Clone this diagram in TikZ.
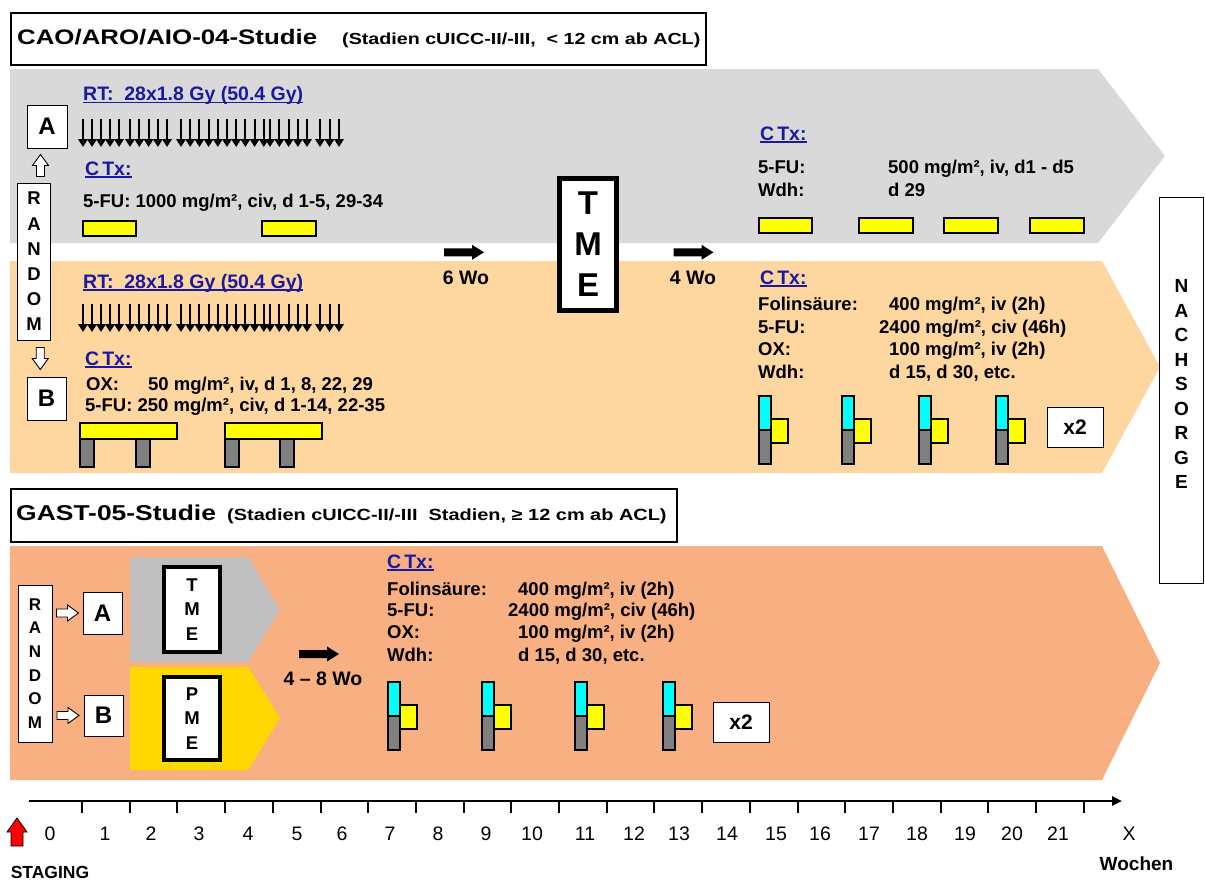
\documentclass[tikz,border=0pt]{standalone}
\usepackage{fontspec}
\setmainfont{Liberation Sans}
\newfontfamily\titlefont[FakeStretch=1.23]{Liberation Sans}
\usetikzlibrary{arrows.meta,calc}
\definecolor{bgray}{HTML}{D9D9D9}
\definecolor{borange}{HTML}{FDD6A0}
\definecolor{bsalmon}{HTML}{F8B082}
\definecolor{ctxblue}{HTML}{1A1AA0}
\definecolor{pmeyellow}{HTML}{FFD800}
\definecolor{tmegray}{HTML}{BFBFBF}
\definecolor{pumpcyan}{HTML}{00FFFF}
\definecolor{pumpyellow}{HTML}{FFFF00}
\definecolor{stubgray}{HTML}{808080}
\newcommand\fsz[1]{\fontsize{#1}{#1}\selectfont}
\newsavebox\ulbox
\newcommand\ulin[1]{\sbox\ulbox{#1}\rlap{\rule[-2.6pt]{\wd\ulbox}{1.4pt}}\usebox\ulbox}
\begin{document}
\begin{tikzpicture}[x=1pt,y=-1pt,
  drug/.style={anchor=base west, inner sep=0, font=\bfseries\fsz{18.5}},
  hdl/.style={anchor=base west, inner sep=0, font=\bfseries\fsz{19.5}, text=ctxblue},
  wotxt/.style={anchor=base, inner sep=0, font=\bfseries\fsz{19.5}},
  axtxt/.style={anchor=base, inner sep=0, font=\fsz{19.5}},
  letterbox/.style={draw, line width=1pt, fill=white, inner sep=0, font=\bfseries\fsz{24}},
  stackbox/.style={draw, line width=1pt, fill=white, inner sep=0, align=center},
  opbox/.style={draw, fill=white, inner sep=0, align=center},
  xtwo/.style={draw, line width=1pt, fill=white, inner sep=0, minimum width=56, minimum height=40, font=\bfseries\fsz{21}},
  ybar/.style={draw, line width=1.3pt, fill=pumpyellow},
  gstub/.style={draw, line width=1.3pt, fill=stubgray},
  dosearr/.style={line width=2pt, -{Triangle[length=8pt,width=9.5pt]}},
  pump/.pic={
    \draw[line width=1.3pt, fill=pumpcyan] (0,0) rectangle (12,34);
    \draw[line width=1.3pt, fill=stubgray] (0,34) rectangle (12,68);
    \draw[line width=1.3pt, fill=pumpyellow] (12,23) rectangle (29,47);
  },
  harrow/.pic={
    \draw[line width=0.9pt, fill=white] (-11,-4) -- (0,-4) -- (0,-8) -- (11,0) -- (0,8) -- (0,4) -- (-11,4) -- cycle;
  },
  barrow/.pic={
    \fill[black] (-20,-4) -- (8,-4) -- (8,-7.5) -- (20,0) -- (8,7.5) -- (8,4) -- (-20,4) -- cycle;
  }
]
\useasboundingbox (0,0) rectangle (1205,881);
\fill[white] (0,0) rectangle (1205,881);

% ---------- background bands ----------
\fill[bgray] (10,69) -- (1098,69) -- (1165,156) -- (1098,243) -- (10,243) -- cycle;
\fill[borange] (10,261) -- (1102,261) -- (1160,367) -- (1102,473) -- (10,473) -- cycle;
\fill[bsalmon] (10,546) -- (1102,546) -- (1160,663) -- (1102,780) -- (10,780) -- cycle;

% ---------- title boxes ----------
\node[draw, line width=2pt, fill=white, minimum width=695, minimum height=52, inner sep=0, anchor=north west] (title1) at (10,12) {};
\node[anchor=base west, inner sep=0, font=\titlefont\bfseries\fsz{21}] (t1a) at (17,44.5) {CAO/ARO/AIO-04-Studie};
\node[anchor=base west, inner sep=0, font=\titlefont\bfseries\fsz{16}] (t1b) at (342,44) {(Stadien cUICC-II/-III,\ \ < 12 cm ab ACL)};

\node[draw, line width=2pt, fill=white, minimum width=666, minimum height=53, inner sep=0, anchor=north west] (title2) at (10,488) {};
\node[anchor=base west, inner sep=0, font=\titlefont\bfseries\fsz{21.5}] (t2a) at (16,520.5) {GAST-05-Studie};
\node[anchor=base west, inner sep=0, font=\titlefont\bfseries\fsz{16.2}] (t2b) at (227,520) {(Stadien cUICC-II/-III\ \ Stadien, ≥ 12 cm ab ACL)};

% ---------- CAO/ARO/AIO-04: randomisation ----------
\node[letterbox, minimum width=40, minimum height=43] (boxA) at (47,126.5) {A};
\node[letterbox, minimum width=39, minimum height=43] (boxB) at (46.5,398.5) {B};
\node[stackbox, minimum width=33, minimum height=157, font=\bfseries\fontsize{18.5}{25.2}\selectfont] (rnd1) at (34,261.5) {R\\A\\N\\D\\O\\M};
\pic[rotate=90] at ($(rnd1.north)!0.5!(boxA.south)$) {harrow};
\pic[rotate=-90] at ($(rnd1.south)!0.5!(boxB.north)$) {harrow};

% ---------- arm A (gray) ----------
\node[hdl] (rtA) at (83,100.5) {\ulin{RT:\ \ 28x1.8 Gy (50.4 Gy)}};
\foreach \x in {83,92,101,110,119, 130,139.3,148.6,157.9,167, 181,190.2,199.4,208.6,217.8,227,236.2,245.4,254.6,263.8, 270,279.3,288.6,297.9,307, 320,329.5,339}
  \draw[dosearr] (\x,119) -- (\x,147);
\node[hdl] (ctxA) at (85,175) {\ulin{C\kern3pt Tx:}};
\node[drug] (fuA) at (83,207) {5-FU: 1000 mg/m², civ, d 1-5, 29-34};
\draw[ybar] (83,221) rectangle (136,236);
\draw[ybar] (262,221) rectangle (316,236);

% ---------- arm B (orange) ----------
\node[hdl] (rtB) at (83,288) {\ulin{RT:\ \ 28x1.8 Gy (50.4 Gy)}};
\foreach \x in {83,92,101,110,119, 130,139.3,148.6,157.9,167, 181,190.2,199.4,208.6,217.8,227,236.2,245.4,254.6,263.8, 270,279.3,288.6,297.9,307, 320,329.5,339}
  \draw[dosearr] (\x,304) -- (\x,332);
\node[hdl] (ctxB) at (85,365) {\ulin{C\kern3pt Tx:}};
\node[drug] (oxB) at (86,390) {OX:};
\node[drug] (oxBv) at (148,390) {50 mg/m², iv, d 1, 8, 22, 29};
\node[drug] (fuB) at (85,411.7) {5-FU: 250 mg/m², civ, d 1-14, 22-35};
\draw[gstub] (80,439) rectangle (94,467);
\draw[gstub] (136,439) rectangle (150,467);
\draw[gstub] (225,439) rectangle (239,467);
\draw[gstub] (280,439) rectangle (294,467);
\draw[ybar] (80,423) rectangle (177,439);
\draw[ybar] (225,423) rectangle (322,439);

% ---------- intervals and TME ----------
\pic at (464,252.3) {barrow};
\node[wotxt] (wo6) at (466,284.3) {6 Wo};
\node[opbox, line width=5pt, minimum width=57, minimum height=132, font=\bfseries\fontsize{33}{41}\selectfont] (tme) at (588,244.5) {T\\M\\E};
\pic at (693.5,252.3) {barrow};
\node[wotxt] (wo4) at (693,284.3) {4 Wo};

% ---------- adjuvant arm A ----------
\node[hdl] (ctxA2) at (760,140) {\ulin{C\kern3pt Tx:}};
\node[drug] at (758,173) {5-FU:};
\node[drug] at (888,173) {500 mg/m², iv, d1 - d5};
\node[drug] at (758,196) {Wdh:};
\node[drug] at (888,196) {d 29};
\draw[ybar] (759,218) rectangle (812,233);
\draw[ybar] (859,218) rectangle (913,233);
\draw[ybar] (944,218) rectangle (998,233);
\draw[ybar] (1030,218) rectangle (1084,233);

% ---------- adjuvant arm B ----------
\node[hdl] (ctxB2) at (760,284) {\ulin{C\kern3pt Tx:}};
\node[drug] at (758,310.7) {Folinsäure:};
\node[drug] at (889,310.7) {400 mg/m², iv (2h)};
\node[drug] at (758,333.3) {5-FU:};
\node[drug] at (879,333.3) {2400 mg/m², civ (46h)};
\node[drug] at (758,355) {OX:};
\node[drug] at (889,355) {100 mg/m², iv (2h)};
\node[drug] at (758,378.3) {Wdh:};
\node[drug] at (889,378.3) {d 15, d 30, etc.};
\foreach \x in {759,842,919,996} \pic at (\x,396) {pump};
\node[xtwo] (x2a) at (1075,427) {x2};

% ---------- NACHSORGE ----------
\node[stackbox, minimum width=44, minimum height=386, anchor=north west, font=\bfseries\fontsize{19}{24.5}\selectfont] (nach) at (1159,197) {N\\A\\C\\H\\S\\O\\R\\G\\E\\[-12pt]};

% ---------- GAST-05 ----------
\node[stackbox, minimum width=34, minimum height=157, font=\bfseries\fontsize{17}{23.6}\selectfont] (rnd2) at (35,663.5) {R\\A\\N\\D\\O\\M};
\node[letterbox, minimum width=39, minimum height=42] (boxA2) at (102.5,613) {A};
\node[letterbox, minimum width=39, minimum height=41] (boxB2) at (103.5,715.5) {B};
\pic at ($(rnd2.east |- boxA2.west)!0.5!(boxA2.west)$) {harrow};
\pic at ($(rnd2.east |- boxB2.west)!0.5!(boxB2.west)$) {harrow};

\fill[tmegray] (130,557) -- (248,557) -- (280,610) -- (248,662) -- (130,662) -- cycle;
\fill[pmeyellow] (130,667) -- (248,667) -- (280,718) -- (248,770) -- (130,770) -- cycle;
\node[opbox, line width=4pt, minimum width=56, minimum height=85, font=\bfseries\fontsize{18.5}{24.5}\selectfont] (tme2) at (192,609.5) {T\\M\\E};
\node[opbox, line width=4pt, minimum width=56, minimum height=83, font=\bfseries\fontsize{18.5}{24.5}\selectfont] (pme) at (192,718.5) {P\\M\\E};

\pic at (319,654) {barrow};
\node[wotxt] (wo48) at (323,685) {4 – 8 Wo};

\node[hdl] (ctxG) at (387,568) {\ulin{C\kern3pt Tx:}};
\node[drug] at (387,595) {Folinsäure:};
\node[drug] at (518,595) {400 mg/m², iv (2h)};
\node[drug] at (387,616.7) {5-FU:};
\node[drug] at (508,616.7) {2400 mg/m², civ (46h)};
\node[drug] at (387,638.3) {OX:};
\node[drug] at (518,638.3) {100 mg/m², iv (2h)};
\node[drug] at (387,661.7) {Wdh:};
\node[drug] at (518,661.7) {d 15, d 30, etc.};
\foreach \x in {388,482,575,663} \pic at (\x,682) {pump};
\node[xtwo] (x2b) at (741,722) {x2};

% ---------- time axis ----------
\draw[line width=2.5pt, -{Triangle[length=10pt,width=9pt]}] (29,801) -- (1122,801);
\foreach \k in {0,...,21} \draw[line width=2pt] ({82+47.7*\k},801) -- ({82+47.7*\k},813);
\foreach \x/\l in {50/0,105/1,151/2,199/3,248/4,297/5,342/6,390/7,438/8,486/9,532/10,585/11,634/12,679/13,727/14,776/15,820/16,869/17,917/18,965/19,1012/20,1058/21,1129/X}
  \node[axtxt] at (\x,840) {\l};
\draw[line width=0.8pt, fill=red] (11,846) -- (11,832) -- (7,832) -- (17,818) -- (27,832) -- (23,832) -- (23,846) -- cycle;
\node[anchor=base, inner sep=0, font=\bfseries\fsz{17.5}] (staging) at (50,878) {STAGING};
\node[anchor=base, inner sep=0, font=\bfseries\fsz{19}] (wochen) at (1136.5,870) {Wochen};
\end{tikzpicture}
\end{document}
